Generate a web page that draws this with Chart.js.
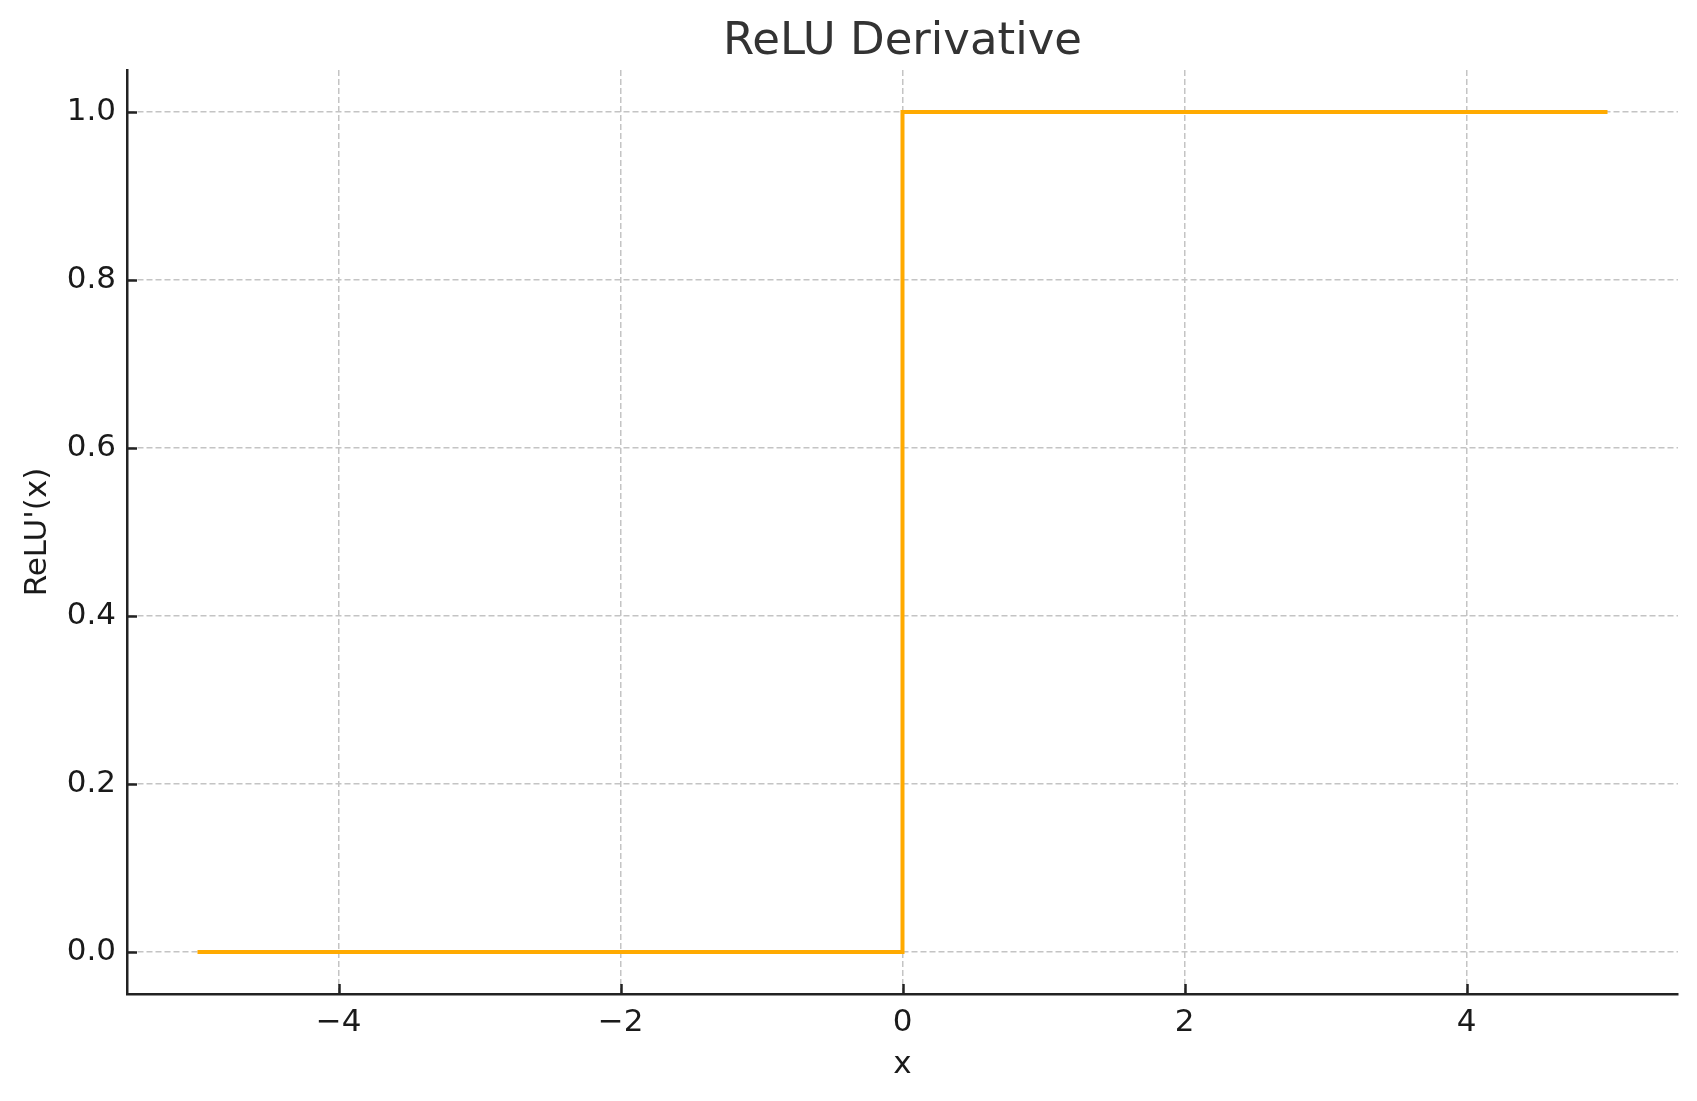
<!DOCTYPE html>
<html>
<head>
<meta charset="utf-8">
<script src="https://cdn.jsdelivr.net/npm/chart.js@4/dist/chart.umd.min.js"></script>
<style>
  html, body { margin: 0; padding: 0; background: #ffffff; }
  #wrap { width: 1697px; height: 1101px; }
</style>
</head>
<body>
<div id="wrap"><canvas id="c" width="1697" height="1101"></canvas></div>
<script>
// ---- data ----
const xValues = [-5, 0, 0, 5];
const yValues = [0, 0, 1, 1];
const xTickValues = [-4, -2, 0, 2, 4];
const yTickValues = [0, 0.2, 0.4, 0.6, 0.8, 1.0];
const titleText = "ReLU Derivative";
const xLabel = "x";
const yLabel = "ReLU'(x)";

const points = xValues.map((x, i) => ({ x: x, y: yValues[i] }));

const FONT = "'DejaVu Sans', 'Liberation Sans', sans-serif";

const inwardTicks = {
  id: 'inwardTicks',
  afterDraw(chart) {
    const ctx = chart.ctx;
    const xs = chart.scales.x, ys = chart.scales.y;
    const area = chart.chartArea;
    ctx.save();
    ctx.strokeStyle = '#222222';
    ctx.lineWidth = 2.5;
    ctx.lineCap = 'butt';
    xs.ticks.forEach(t => {
      const px = Math.round(xs.getPixelForValue(t.value)) + 0.5;
      ctx.beginPath();
      ctx.moveTo(px, area.bottom);
      ctx.lineTo(px, area.bottom - 10);
      ctx.stroke();
    });
    ys.ticks.forEach(t => {
      const py = Math.round(ys.getPixelForValue(t.value)) + 0.5;
      ctx.beginPath();
      ctx.moveTo(area.left, py);
      ctx.lineTo(area.left + 10, py);
      ctx.stroke();
    });
    ctx.restore();
  }
};

const fmtMinus = v => (v < 0 ? '\u2212' + Math.abs(v) : String(v));

new Chart(document.getElementById('c'), {
  type: 'scatter',
  data: {
    datasets: [{
      data: points,
      showLine: true,
      borderColor: '#FFAA00',
      backgroundColor: '#FFAA00',
      borderWidth: 4,
      pointRadius: 0,
      pointHoverRadius: 0,
      tension: 0,
      borderJoinStyle: 'miter',
      borderCapStyle: 'butt'
    }]
  },
  options: {
    responsive: false,
    animation: false,
    devicePixelRatio: 1,
    layout: { padding: { left: 0, right: 19, top: 0, bottom: 0 } },
    plugins: {
      legend: { display: false },
      tooltip: { enabled: false },
      title: {
        display: true,
        fullSize: false,
        text: titleText,
        color: '#333333',
        font: { family: FONT, size: 45, weight: 'normal', lineHeight: 1.2 },
        padding: { top: 15, bottom: 1 }
      }
    },
    scales: {
      x: {
        type: 'linear',
        min: -5.5,
        max: 5.5,
        afterBuildTicks: s => { s.ticks = xTickValues.map(v => ({ value: v })); },
        afterFit: s => { s.height = 107; },
        ticks: {
          color: '#1a1a1a',
          font: { family: FONT, size: 31 },
          padding: 10,
          maxRotation: 0,
          callback: v => fmtMinus(v)
        },
        grid: {
          color: '#c4c4c4',
          lineWidth: 1.5,
          drawTicks: false,
          tickLength: 0
        },
        border: { display: true, color: '#222222', width: 2.5, dash: [6, 3] },
        title: {
          display: true,
          text: xLabel,
          color: '#1a1a1a',
          font: { family: FONT, size: 31 },
          padding: { top: 0, bottom: 17 }
        }
      },
      y: {
        type: 'linear',
        min: -0.05,
        max: 1.05,
        afterBuildTicks: s => { s.ticks = yTickValues.map(v => ({ value: v })); },
        afterFit: s => { s.width = 127; },
        ticks: {
          color: '#1a1a1a',
          font: { family: FONT, size: 31 },
          padding: 11,
          callback: v => v.toFixed(1)
        },
        grid: {
          color: '#c4c4c4',
          lineWidth: 1.5,
          drawTicks: false,
          tickLength: 0
        },
        border: { display: true, color: '#222222', width: 2.5, dash: [6, 3] },
        title: {
          display: true,
          text: yLabel,
          color: '#1a1a1a',
          font: { family: FONT, size: 31 },
          padding: { top: 19, bottom: 0 }
        }
      }
    }
  },
  plugins: [inwardTicks]
});
</script>
</body>
</html>
